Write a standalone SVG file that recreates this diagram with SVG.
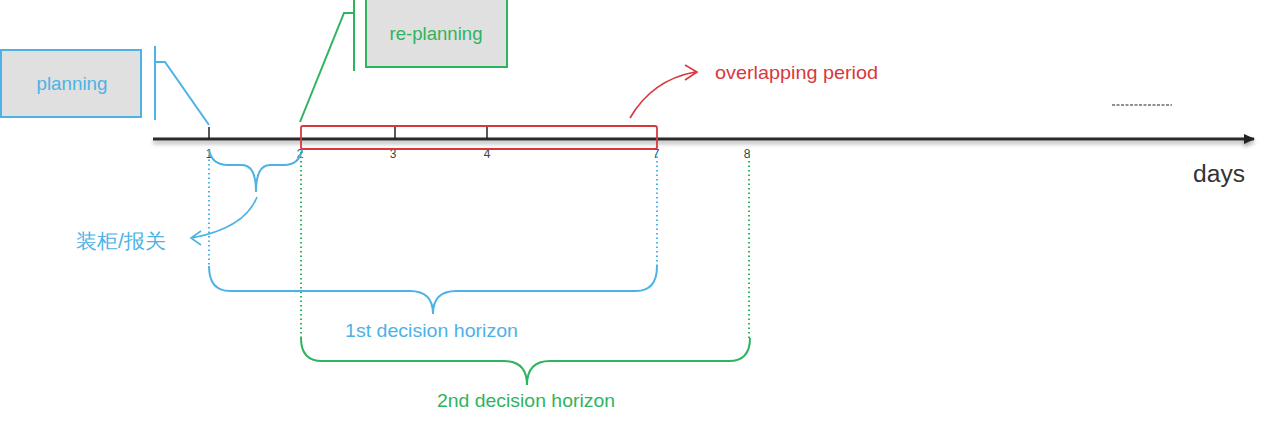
<svg xmlns="http://www.w3.org/2000/svg" width="1280" height="424" viewBox="0 0 1280 424">
<style>
text{font-family:"Liberation Sans",Arial,sans-serif}
.blue{stroke:#4db2e6;fill:none}
.green{stroke:#2fb45e;fill:none}
.red{stroke:#d8383c;fill:none}
.tick{font-size:12px;fill:#444;text-anchor:middle}
</style>
<defs>
<filter id="sh" filterUnits="userSpaceOnUse" x="140" y="120" width="1140" height="45">
<feDropShadow dx="0" dy="3" stdDeviation="2" flood-color="#000" flood-opacity="0.35"/>
</filter>
<marker id="ah" markerWidth="12" markerHeight="10" refX="10" refY="5" orient="auto" markerUnits="userSpaceOnUse">
<path d="M0,0 L11,5 L0,10 z" fill="#222"/>
</marker>
</defs>
<rect width="1280" height="424" fill="#fff"/>

<g id="axis">
<line x1="153" y1="139" x2="1254" y2="139" stroke="#2a2a2a" stroke-width="3" filter="url(#sh)" marker-end="url(#ah)"/>
<line x1="209" y1="127" x2="209" y2="139" stroke="#222" stroke-width="1.5"/>
<line x1="395" y1="127" x2="395" y2="139" stroke="#222" stroke-width="1.5"/>
<line x1="487" y1="127" x2="487" y2="139" stroke="#222" stroke-width="1.5"/>
<text class="tick" x="209" y="158">1</text>
<text class="tick" x="300" y="158">2</text>
<text class="tick" x="393" y="158">3</text>
<text class="tick" x="487" y="158">4</text>
<text class="tick" x="656" y="158">7</text>
<text class="tick" x="747" y="158">8</text>
<line x1="1112" y1="105" x2="1172" y2="105" stroke="#222" stroke-width="1.2" stroke-dasharray="3,1.5"/>
<text x="1193" y="182" font-size="23" fill="#333" textLength="52" lengthAdjust="spacingAndGlyphs">days</text>
</g>

<g id="planning">
<rect x="1" y="50" width="140" height="67" fill="#e0e0e0" stroke="#4db2e6" stroke-width="2"/>
<text x="72" y="90" font-size="19" fill="#4db2e6" text-anchor="middle" textLength="71" lengthAdjust="spacingAndGlyphs">planning</text>
</g>

<g id="replanning">
<rect x="366" y="-2" width="141" height="69" fill="#e0e0e0" stroke="#2fb45e" stroke-width="2"/>
<text x="436" y="40" font-size="19" fill="#2fb45e" text-anchor="middle" textLength="93" lengthAdjust="spacingAndGlyphs">re-planning</text>
</g>

<g id="overlap">
<rect x="301" y="126" width="356" height="23" rx="2" class="red" stroke-width="1.8"/>
<text x="715" y="79" font-size="19" fill="#d8383c" textLength="163" lengthAdjust="spacingAndGlyphs">overlapping period</text>
</g>

<g id="labels">
<text x="76" y="248" font-size="20" fill="#4db2e6" font-family="'Liberation Sans','Noto Sans CJK SC',sans-serif" textLength="90" lengthAdjust="spacingAndGlyphs">装柜/报关</text>
<text x="345" y="337" font-size="19" fill="#4db2e6" textLength="173" lengthAdjust="spacingAndGlyphs">1st decision horizon</text>
<text x="437" y="407" font-size="19" fill="#2fb45e" textLength="178" lengthAdjust="spacingAndGlyphs">2nd decision horizon</text>
</g>

<g id="connectors">
<path class="blue" stroke-width="2" d="M155,46 L155,120 M155,62 L165,62 L209,125"/>
<path class="green" stroke-width="2" d="M354,0 L354,71 M354,13 L344,13 L300,122"/>
<path class="red" stroke-width="1.6" d="M630,118 Q652,80 695,72 M685,65 L697,72 L685,80"/>
<path class="blue" stroke-width="2" d="M209,150 Q212,165 228,165 L242,165 Q256,165 256,192 M302,150 Q299,165 284,165 L270,165 Q256,165 256,192"/>
<path class="blue" stroke-width="1.6" d="M257,197 Q245,228 192,238 M201,231 L191,238 L201,245"/>
<path class="blue" stroke-width="2" stroke-dasharray="1.5,3" d="M209,155 L209,268 M657,152 L657,268"/>
<path class="green" stroke-width="2" stroke-dasharray="1.5,3" d="M301,152 L301,340 M749,152 L749,340"/>
<path class="blue" stroke-width="2" d="M209,266 Q209,291 230,291 L410,291 Q433,291 433,314 M657,266 Q657,291 636,291 L456,291 Q433,291 433,314"/>
<path class="green" stroke-width="2" d="M301,338 Q301,361 322,361 L504,361 Q527,361 527,385 M750,338 Q750,361 729,361 L550,361 Q527,361 527,385"/>
</g>
</svg>
